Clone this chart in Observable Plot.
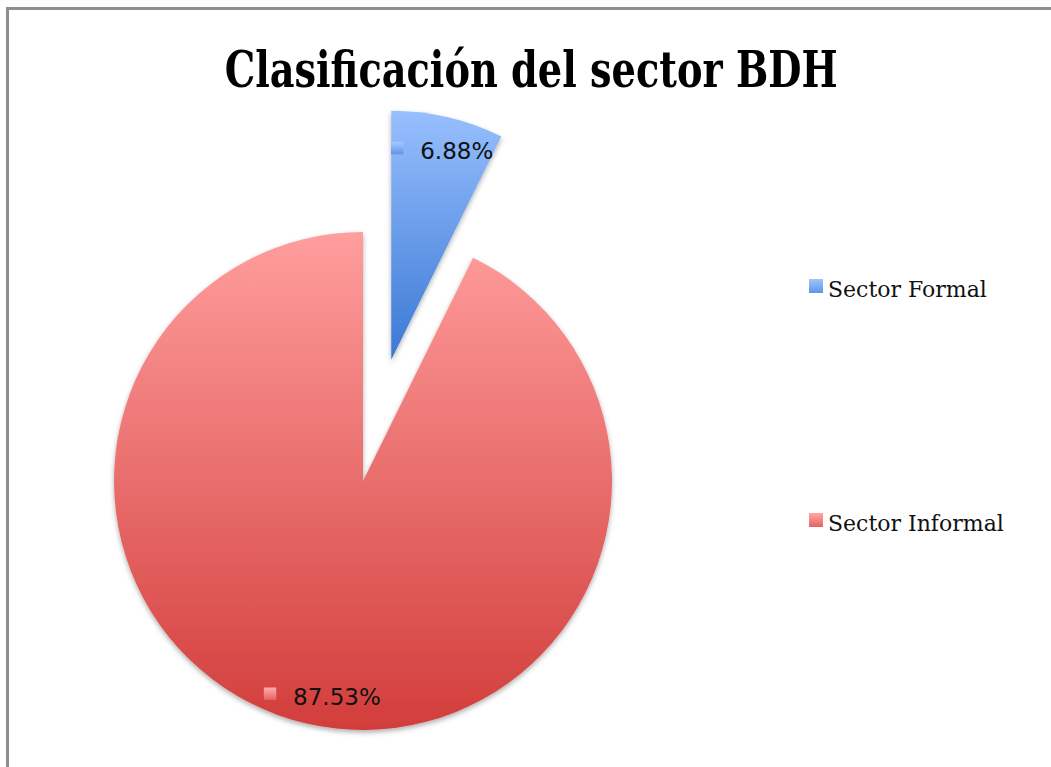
<!DOCTYPE html>
<html>
<head>
<meta charset="utf-8">
<script src="https://cdn.jsdelivr.net/npm/d3@7"></script>
<script src="https://cdn.jsdelivr.net/npm/@observablehq/plot@0.6"></script>
<style>
  html, body { margin: 0; padding: 0; background: #fff; }
  #wrap { position: relative; width: 1051px; height: 767px; overflow: hidden; background: #fff; }
  #frame { position: absolute; left: 6px; top: 7px; right: -10px; bottom: -10px;
           border-top: 3px solid #8f8f8f; border-left: 3px solid #8f8f8f; }
  #chart { position: absolute; left: 0; top: 0; }
  #title { position: absolute; left: 6px; top: 45px; width: 1051px; text-align: center; white-space: nowrap; }
  #title span { display: inline-block; font-family: "DejaVu Serif Condensed", "DejaVu Serif", serif;
                font-weight: bold; font-size: 50px; line-height: 50px; color: #000; transform-origin: center; }
  .leg { position: absolute; left: 809px; display: flex; align-items: flex-start; }
  .leg .sw { width: 14px; height: 14px; margin-right: 5px; }
  .leg .tx { font-family: "DejaVu Serif", serif; font-size: 22px; line-height: 22px; color: #111; }
</style>
</head>
<body>
<div id="wrap">
  <div id="frame"></div>
  <div id="chart"></div>
  <div id="title"><span>Clasificación del sector BDH</span></div>
  <div id="legend"></div>
</div>
<script>
// ---- data ----
const categories = ["Sector Formal", "Sector Informal"];
const values = [6.88, 87.53];
const labels = ["6.88%", "87.53%"];
const explode = [0.5, 0];           // slice pull-out, in radius units
const topColors = ["#97bffe", "#ff9e9d"];
const bottomColors = ["#3a78d4", "#d23d3b"];

// ---- layout ----
const W = 1051, H = 767, CX = 363, CY = 481, R = 249, LABEL_R = 0.875;

const arcs = d3.pie().sort(null).startAngle(0).endAngle(2 * Math.PI)(values);
const table = arcs.map((a, i) => {
  const mid = (a.startAngle + a.endAngle) / 2;
  const rr = explode[i] + LABEL_R;
  return {category: categories[i], value: values[i], label: labels[i], i,
          lx: rr * Math.sin(mid), ly: rr * Math.cos(mid)};
});

function pieMark(index, scales) {
  const {x, y} = scales;
  const cx = x(0), cy = y(0), r = x(1) - x(0);
  const g = d3.create("svg:g");
  const defs = g.append("defs");
  const f = defs.append("filter").attr("id", "pshadow")
    .attr("x", "-10%").attr("y", "-10%").attr("width", "120%").attr("height", "120%");
  f.append("feDropShadow").attr("dx", 0).attr("dy", 2.5).attr("stdDeviation", 2.5)
    .attr("flood-color", "#000").attr("flood-opacity", 0.32);
  categories.forEach((c, i) => {
    const lg = defs.append("linearGradient").attr("id", "grad" + i)
      .attr("x1", 0).attr("y1", 0).attr("x2", 0).attr("y2", 1);
    lg.append("stop").attr("offset", "0%").attr("stop-color", topColors[i]);
    lg.append("stop").attr("offset", "100%").attr("stop-color", bottomColors[i]);
    const sg = defs.append("linearGradient").attr("id", "sq" + i)
      .attr("x1", 0).attr("y1", 0).attr("x2", 0).attr("y2", 1);
    sg.append("stop").attr("offset", "0%").attr("stop-color", d3.interpolateRgb(topColors[i], "#fff")(0.15));
    sg.append("stop").attr("offset", "100%").attr("stop-color", d3.interpolateRgb(topColors[i], bottomColors[i])(0.6));
  });
  const arc = d3.arc().innerRadius(0).outerRadius(r);
  arcs.forEach((a, i) => {
    const mid = (a.startAngle + a.endAngle) / 2;
    const off = explode[i] * r;
    g.append("path")
      .attr("d", arc(a))
      .attr("transform", `translate(${cx + off * Math.sin(mid)},${cy - off * Math.cos(mid)})`)
      .attr("fill", `url(#grad${i})`)
      .attr("filter", "url(#pshadow)");
  });
  return g.node();
}

const plot = Plot.plot({
  width: W, height: H,
  marginTop: 0, marginRight: 0, marginBottom: 0, marginLeft: 0,
  style: {background: "transparent", overflow: "visible"},
  x: {domain: [-CX / R, (W - CX) / R], axis: null},
  y: {domain: [-(H - CY) / R, CY / R], axis: null},
  marks: [
    pieMark,
    Plot.dot(table, {x: "lx", y: "ly", symbol: "square", r: 7, dx: -44, dy: 0,
                     fill: d => `url(#sq${d.i})`, stroke: "none"}),
    Plot.text(table, {x: "lx", y: "ly", text: "label", textAnchor: "start", lineAnchor: "middle",
                      dx: -21, dy: 4, fontSize: 23, fontFamily: "DejaVu Sans", fill: "#111"})
  ]
});
document.getElementById("chart").appendChild(plot);

// title width fit
const tspan = document.querySelector("#title span");
const tw = tspan.getBoundingClientRect().width;
tspan.style.transform = `scaleX(${613 / tw})`;

// legend
const legTops = [279, 513];
const leg = d3.select("#legend");
categories.forEach((c, i) => {
  const item = leg.append("div").attr("class", "leg").style("top", legTops[i] + "px");
  item.append("div").attr("class", "sw")
    .style("background", `linear-gradient(${d3.interpolateRgb(topColors[i], "#fff")(0.1)}, ${d3.interpolateRgb(topColors[i], bottomColors[i])(0.6)})`);
  item.append("span").attr("class", "tx").text(c);
});
</script>
</body>
</html>
